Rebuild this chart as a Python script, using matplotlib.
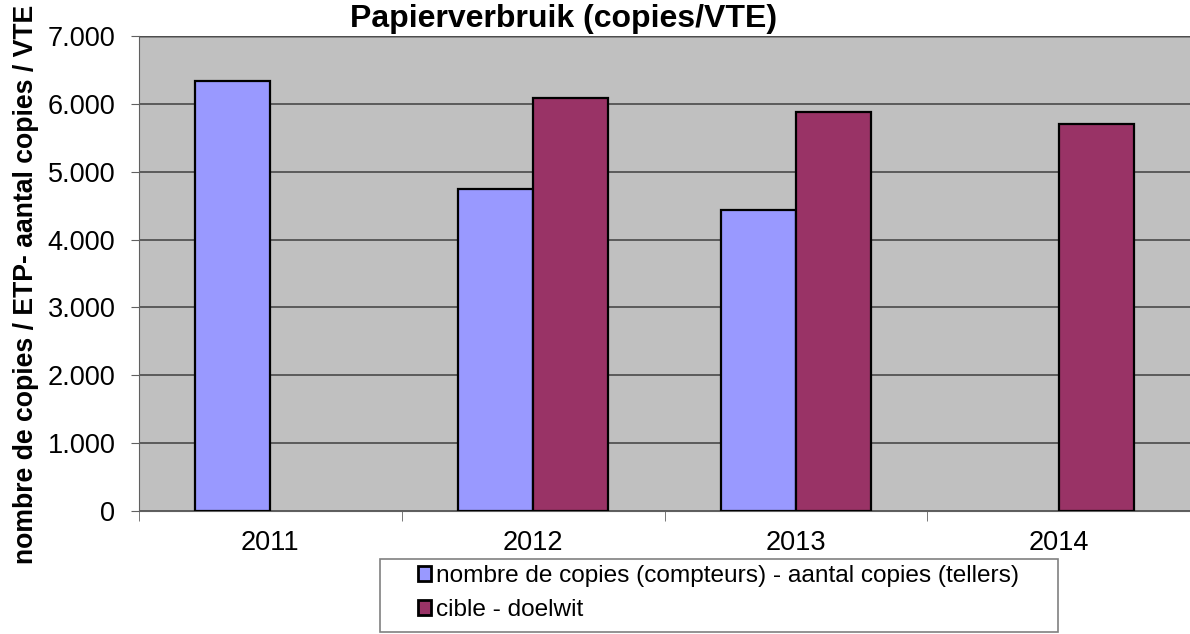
import matplotlib.pyplot as plt
import numpy as np
from matplotlib.patches import Rectangle
plt.rcParams['font.family'] = ['Liberation Sans', 'DejaVu Sans']

years = ['2011', '2012', '2013', '2014']
copies = [6330, 4750, 4440, np.nan]
target = [np.nan, 6090, 5880, 5700]
yticks = [0, 1000, 2000, 3000, 4000, 5000, 6000, 7000]
ytick_labels = ['0', '1.000', '2.000', '3.000', '4.000', '5.000', '6.000', '7.000']

W, H = 1190, 634
fig = plt.figure(figsize=(W/100, H/100), dpi=100)
ax = fig.add_axes([139/W, 1 - 511/H, (W - 139)/W, (511 - 36)/H])
ax.set_facecolor('#C0C0C0')

x = np.arange(len(years))
w = 0.286
ax.bar(x - w/2, copies, w, color='#9999FF', edgecolor='black', linewidth=1.6,
       label='nombre de copies (compteurs) - aantal copies (tellers)', zorder=3)
ax.bar(x + w/2, target, w, color='#993366', edgecolor='black', linewidth=1.6,
       label='cible - doelwit', zorder=3)

ax.set_xlim(-0.5, len(years) - 0.5)
ax.set_ylim(0, 7000)
ax.set_yticks(yticks)
ax.set_yticklabels(ytick_labels, fontsize=19.5)
ax.set_xticks(x)
ax.set_xticklabels(years, fontsize=19.5)
ax.set_xticks(np.arange(len(years) + 1) - 0.5, minor=True)
ax.tick_params(axis='x', which='major', length=0, pad=14)
ax.tick_params(axis='x', which='minor', length=7, color='#606060')
ax.tick_params(axis='y', length=6, color='#606060', pad=11)
ax.grid(True, axis='y', color='#404040', linewidth=1.1, zorder=0)
for s in ['top', 'right']:
    ax.spines[s].set_visible(False)
ax.spines['left'].set_color('#606060')
ax.spines['bottom'].set_color('#606060')
ax.axhline(7000, color='#808080', linewidth=2, zorder=1)

fig.text(26/W, 1 - 284/H, 'nombre de copies / ETP- aantal copies / VTE',
         rotation=90, ha='center', va='center', fontsize=19.2, fontweight='bold')
fig.text(564/W, 1 - 27/H, 'Papierverbruik (copies/VTE)',
         ha='center', va='baseline', fontsize=23, fontweight='bold')

leg = fig.legend(loc='upper left', bbox_to_anchor=(418/W, 1 - 565/H), fontsize=17.6,
                 frameon=False, handlelength=0.55, handleheight=0.55,
                 handletextpad=0.2, borderpad=0, labelspacing=0.5,
                 borderaxespad=0)
for h in leg.legend_handles:
    h.set_linewidth(2)
fig.patches.append(Rectangle((380/W, 1 - 632/H), (1058 - 380)/W, (632 - 559)/H,
                             transform=fig.transFigure, fill=False,
                             edgecolor='#808080', linewidth=1.2))

fig.savefig('out.png', dpi=100)
